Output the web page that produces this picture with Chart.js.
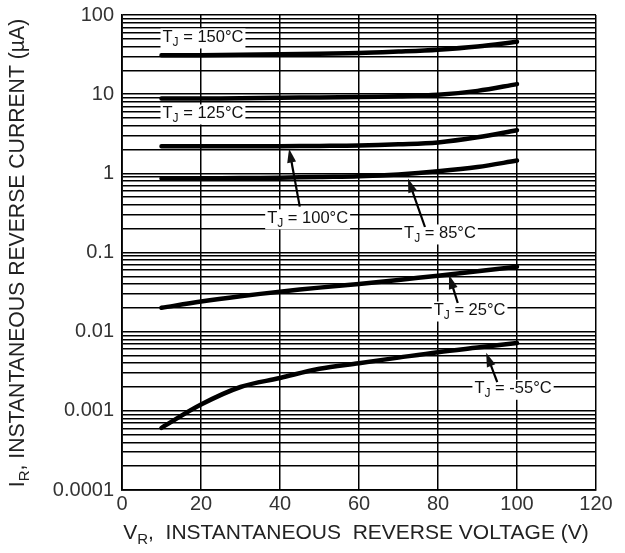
<!DOCTYPE html>
<html>
<head>
<meta charset="utf-8">
<script src="https://cdn.jsdelivr.net/npm/chart.js@4/dist/chart.umd.min.js"></script>
<style>
  html, body { margin: 0; padding: 0; background: #fff; }
  #wrap { width: 625px; height: 553px; }
</style>
</head>
<body>
<div id="wrap"><canvas id="irChart" width="625" height="553"></canvas></div>
<script>
// reverse voltage (V)
const voltages = [10, 20, 30, 40, 50, 60, 70, 80, 90, 100];

// reverse current (uA) per junction temperature
const ir150 = [31, 31, 31.5, 32, 32.5, 33, 34.5, 36.5, 40, 46];
const ir125 = [8.8, 8.8, 8.9, 9.0, 9.1, 9.2, 9.4, 9.8, 11.0, 13.4];
const ir100 = [2.2, 2.2, 2.2, 2.2, 2.22, 2.25, 2.33, 2.46, 2.85, 3.5];
const ir85 = [0.86, 0.86, 0.87, 0.88, 0.9, 0.92, 0.97, 1.06, 1.2, 1.45];
const ir25 = [0.020, 0.024, 0.028, 0.032, 0.036, 0.040, 0.045, 0.051, 0.058, 0.066];
const irM55 = [0.00061, 0.0012, 0.002, 0.0026, 0.0034, 0.004, 0.0047, 0.0055, 0.0063, 0.0072];

// axis ticks
const xTicks = [0, 20, 40, 60, 80, 100, 120];
const yTickLabels = ["0.0001", "0.001", "0.01", "0.1", "1", "10", "100"];

// curve labels: text, label position [V, uA], arrow tail, arrow head
const curveLabels = ["= 150°C", "= 125°C", "= 100°C", "= 85°C", "= 25°C", "= -55°C"];
const labelPos = [[20.5, 52], [20.5, 5.7], [47, 0.27], [80.5, 0.174], [88, 0.0185], [99, 0.0019]];
const arrowTail = [null, null, [45, 0.38], [76.7, 0.21], [85, 0.023], [95, 0.0023]];
const arrowHead = [null, null, [42.3, 2.05], [72.4, 0.86], [82.8, 0.052], [92.2, 0.0054]];

function toPoints(ys) {
    return voltages.map((v, i) => ({ x: v, y: ys[i] }));
}

// every 1..9 x 10^n between 1e-4 and 100
const yGridValues = [];
yTickLabels.forEach((lbl, d) => {
    const base = parseFloat(lbl);
    if (d === yTickLabels.length - 1) { yGridValues.push(base); return; }
    for (let m = 1; m < 10; m++) yGridValues.push(base * m);
});

const FONT = "'Liberation Sans', Arial, sans-serif";

function line(ys) {
    return {
        data: toPoints(ys),
        borderColor: "#000",
        borderWidth: 4.5,
        pointRadius: 0,
        tension: 0.35,
        borderCapStyle: "round",
        fill: false
    };
}

// text with a subscript, drawn left to right from x
function subText(ctx, x, y, main, sub, rest, size) {
    ctx.font = size + "px " + FONT;
    ctx.fillText(main, x, y);
    x += ctx.measureText(main).width;
    ctx.font = Math.round(size * 0.72) + "px " + FONT;
    ctx.fillText(sub, x, y + size * 0.32);
    x += ctx.measureText(sub).width;
    ctx.font = size + "px " + FONT;
    ctx.fillText(rest, x, y);
}

function subWidth(ctx, main, sub, rest, size) {
    ctx.font = size + "px " + FONT;
    let w = ctx.measureText(main).width + ctx.measureText(rest).width;
    ctx.font = Math.round(size * 0.72) + "px " + FONT;
    return w + ctx.measureText(sub).width;
}

const annotate = {
    id: "annotate",
    afterDatasetsDraw(chart) {
        const ctx = chart.ctx;
        const xs = chart.scales.x, ys = chart.scales.y;
        ctx.save();
        ctx.textBaseline = "middle";
        ctx.fillStyle = "#000";
        ctx.strokeStyle = "#000";

        curveLabels.forEach((txt, i) => {
            const size = 16.5;
            const rest = " " + txt;
            const w = subWidth(ctx, "T", "J", rest, size);
            const cx = xs.getPixelForValue(labelPos[i][0]);
            const cy = ys.getPixelForValue(labelPos[i][1]);
            ctx.fillStyle = "#fff";
            ctx.fillRect(cx - w / 2 - 2, cy - 9, w + 4, 20);
            ctx.fillStyle = "#111";
            subText(ctx, cx - w / 2, cy, "T", "J", rest, size);

            if (arrowTail[i]) {
                const x1 = xs.getPixelForValue(arrowTail[i][0]);
                const y1 = ys.getPixelForValue(arrowTail[i][1]);
                const x2 = xs.getPixelForValue(arrowHead[i][0]);
                const y2 = ys.getPixelForValue(arrowHead[i][1]);
                const a = Math.atan2(y2 - y1, x2 - x1);
                ctx.lineWidth = 2.2;
                ctx.beginPath();
                ctx.moveTo(x1, y1);
                ctx.lineTo(x2 - 8 * Math.cos(a), y2 - 8 * Math.sin(a));
                ctx.stroke();
                ctx.beginPath();
                ctx.moveTo(x2, y2);
                ctx.lineTo(x2 - 14 * Math.cos(a) + 4.5 * Math.sin(a), y2 - 14 * Math.sin(a) - 4.5 * Math.cos(a));
                ctx.lineTo(x2 - 14 * Math.cos(a) - 4.5 * Math.sin(a), y2 - 14 * Math.sin(a) + 4.5 * Math.cos(a));
                ctx.closePath();
                ctx.fill();
            }
        });

        // axis titles with subscripts
        ctx.fillStyle = "#222";
        const xs2 = 21;
        const xr = ",  INSTANTANEOUS  REVERSE VOLTAGE (V)";
        const xw = subWidth(ctx, "V", "R", xr, xs2);
        const xc = 356;
        subText(ctx, xc - xw / 2, 533, "V", "R", xr, xs2);

        const ys2 = 21.2;
        const yr = ", INSTANTANEOUS REVERSE CURRENT (µA)";
        const yw = subWidth(ctx, "I", "R", yr, ys2);
        const yc = 253;
        ctx.translate(18, yc);
        ctx.rotate(-Math.PI / 2);
        subText(ctx, -yw / 2, 0, "I", "R", yr, ys2);
        ctx.restore();
    }
};

let irChart;

function initChart() {
    const ctx = document.getElementById("irChart");

    irChart = new Chart(ctx, {
        type: "line",
        data: {
            datasets: [line(ir150), line(ir125), line(ir100), line(ir85), line(ir25), line(irM55)]
        },
        options: {
            responsive: false,
            animation: false,
            layout: { padding: { top: 15, right: 29, left: 0, bottom: 0 } },
            plugins: {
                legend: { display: false },
                tooltip: { enabled: false }
            },
            scales: {
                x: {
                    type: "linear",
                    min: 0,
                    max: 120,
                    afterBuildTicks(scale) {
                        scale.ticks = xTicks.map(v => ({ value: v }));
                    },
                    afterFit(scale) { scale.height = 63; },
                    grid: { color: "#000", lineWidth: 1.5, drawTicks: false },
                    border: { color: "#000", width: 1.8 },
                    ticks: {
                        color: "#333",
                        padding: 2,
                        maxRotation: 0,
                        font: { family: FONT, size: 20 }
                    }
                },
                y: {
                    type: "logarithmic",
                    min: 0.0001,
                    max: 100,
                    afterBuildTicks(scale) {
                        scale.ticks = yGridValues.map(v => ({ value: v }));
                    },
                    afterFit(scale) {
                        scale.width = 122;
                        scale.paddingTop = 0;
                        scale.paddingBottom = 0;
                    },
                    grid: { color: "#000", lineWidth: 1.5, drawTicks: false },
                    border: { color: "#000", width: 1.8 },
                    ticks: {
                        color: "#333",
                        padding: 8,
                        autoSkip: false,
                        font: { family: FONT, size: 20 },
                        callback(value) {
                            const idx = yTickLabels.findIndex(l => Math.abs(parseFloat(l) - value) < value * 1e-6);
                            return idx >= 0 ? yTickLabels[idx] : "";
                        }
                    }
                }
            }
        },
        plugins: [annotate]
    });
}

window.addEventListener("load", initChart);
</script>
</body>
</html>
